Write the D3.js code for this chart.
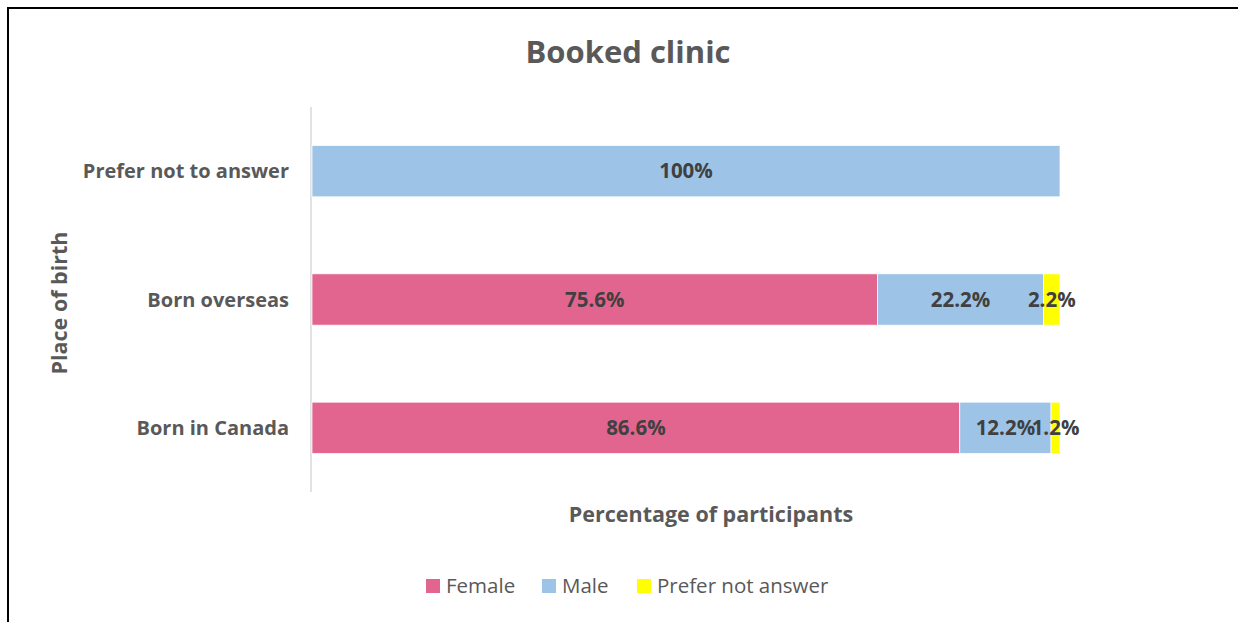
<!DOCTYPE html>
<meta charset="utf-8">
<head>
<style>
body{
	margin:0;
	background:#fff;
}
text{
	font-family:"Open Sans", Lato, sans-serif;
}
.title{
	fill:#595959;
	font-size:31px;
	font-weight:bold;
	text-anchor:middle;
}
.cat{
	fill:#595959;
	font-size:20px;
	font-weight:bold;
	text-anchor:end;
}
.axisTitle{
	fill:#595959;
	font-size:21.5px;
	font-weight:bold;
	text-anchor:middle;
}
.lbl{
	fill:#404040;
	font-size:20.5px;
	font-weight:bold;
	text-anchor:middle;
}
.legend text{
	fill:#595959;
	font-size:20.5px;
}
</style>
</head>
<body>
<script src="https://d3js.org/d3.v7.min.js"></script>
<script>

var categories=['Prefer not to answer','Born overseas','Born in Canada'];
var seriesNames=['Female','Male','Prefer not answer'];
var female=[0,75.6,86.6];
var male=[100,22.2,12.2];
var preferNot=[0,2.2,1.2];
var color={Female:"#E2658F",Male:"#9DC3E6","Prefer not answer":"#FFFF00"};

var svg=d3.select("body").append("svg").attr("width",1238).attr("height",622);

// frame (open at right and bottom, like the cropped original)
svg.append("path").attr("d","M8,622V8H1238")
	.attr("fill","none").attr("stroke","#000").attr("stroke-width",2);

svg.append("text").attr("class","title").attr("x",628).attr("y",63).text("Booked clinic");

var x=d3.scaleLinear().domain([0,100]).range([312,1060]);
var y=d3.scaleBand().domain(categories).range([107,492]).paddingInner(0.6).paddingOuter(0.3);

// build stacked rows from the series arrays
var rows=categories.map(function(c,i){
	var r={cat:c};
	r['Female']=female[i];
	r['Male']=male[i];
	r['Prefer not answer']=preferNot[i];
	return r;
});
var stack=d3.stack().keys(seriesNames)(rows);

svg.append("line").attr("x1",311).attr("x2",311).attr("y1",107).attr("y2",492)
	.attr("stroke","#D9D9D9").attr("stroke-width",1.5);

var layers=svg.selectAll(".layer").data(stack).enter().append("g")
	.attr("class","layer").attr("fill",d=>color[d.key]);

layers.selectAll("rect").data(d=>d.filter(s=>s[1]-s[0]>0)).enter().append("rect")
	.attr("x",d=>x(d[0]))
	.attr("y",d=>y(d.data.cat))
	.attr("width",d=>x(d[1])-x(d[0]))
	.attr("height",y.bandwidth())
	.attr("stroke","#fff").attr("stroke-width",0.75);

layers.each(function(layer){
	d3.select(this).selectAll("text").data(layer.filter(s=>s[1]-s[0]>0)).enter().append("text")
		.attr("class","lbl")
		.attr("x",d=>(x(d[0])+x(d[1]))/2)
		.attr("y",d=>y(d.data.cat)+y.bandwidth()/2+7)
		.text(d=>d3.format(".1~f")(d[1]-d[0])+"%");
});

svg.selectAll(".cat").data(categories).enter().append("text")
	.attr("class","cat")
	.attr("x",289)
	.attr("y",d=>y(d)+y.bandwidth()/2+7)
	.text(d=>d);

svg.append("text").attr("class","axisTitle").attr("x",711).attr("y",522).text("Percentage of participants");
svg.append("text").attr("class","axisTitle").attr("transform","translate(67,303) rotate(-90)").text("Place of birth");

// legend
var lg=svg.append("g").attr("class","legend");
var lx=[426,542,637];
seriesNames.forEach(function(s,i){
	lg.append("rect").attr("x",lx[i]).attr("y",579).attr("width",14).attr("height",14).attr("fill",color[s]);
	lg.append("text").attr("x",lx[i]+20).attr("y",593).text(s);
});
</script>
</body>
</html>
